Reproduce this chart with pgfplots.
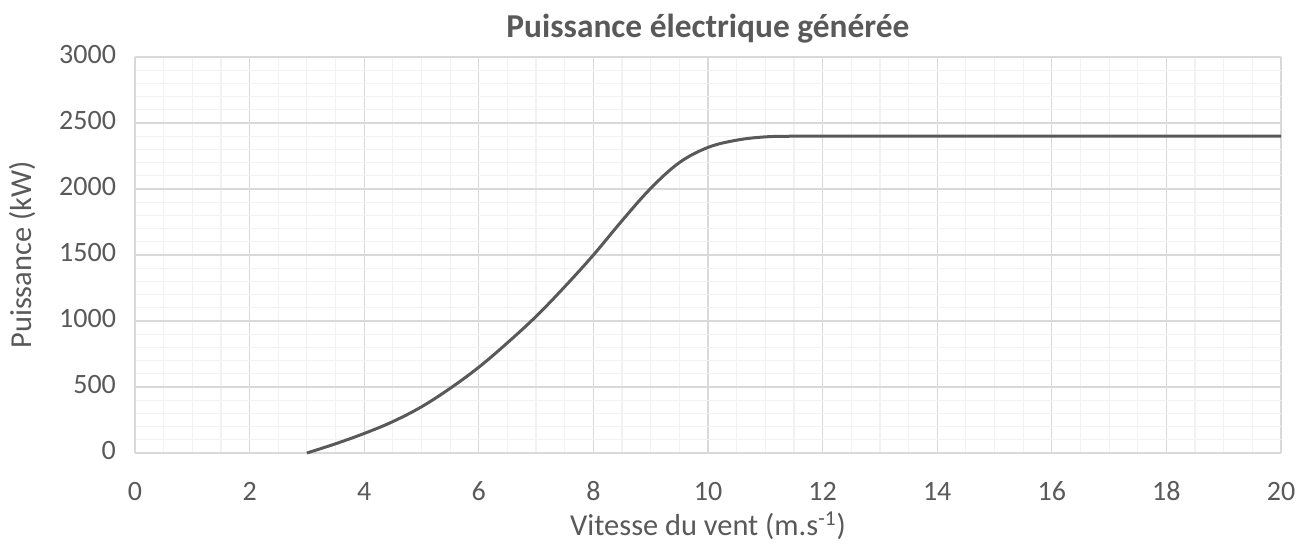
\documentclass[border=0pt]{standalone}
\usepackage{pgfplots}
\pgfplotsset{compat=1.18}
\usepackage{fontspec}
\setmainfont{Carlito}
\definecolor{txt}{HTML}{595959}
\definecolor{majg}{HTML}{D9D9D9}
\definecolor{ming}{HTML}{F2F2F2}
\begin{document}
\begin{tikzpicture}[x=0.5pt,y=0.5pt]
\begin{axis}[
  scale only axis,
  width=573pt, height=198pt,
  xmin=0, xmax=20, ymin=0, ymax=3000,
  xtick={0,2,...,20}, ytick={0,500,...,3000},
  minor xtick={0.5,1,1.5,2.5,3,3.5,4.5,5,5.5,6.5,7,7.5,8.5,9,9.5,10.5,11,11.5,12.5,13,13.5,14.5,15,15.5,16.5,17,17.5,18.5,19,19.5},
  minor ytick={100,200,300,400,600,700,800,900,1100,1200,1300,1400,1600,1700,1800,1900,2100,2200,2300,2400,2600,2700,2800,2900},
  grid=both,
  major grid style={majg, line width=0.6pt},
  minor grid style={ming, line width=0.6pt},
  axis line style={majg, line width=0.6pt},
  axis lines*=left,
  tick style={draw=none},
  typeset ticklabels with strut,
  ticklabel style={font=\fontsize{14}{16}\selectfont, text=txt},
  /pgf/number format/assume math mode=true,
  /pgf/number format/1000 sep={},
  xticklabel style={yshift=-9pt},
  yticklabel style={xshift=-6pt},
  title={\textbf{Puissance électrique générée}},
  title style={font=\fontsize{16.7}{19}\selectfont, text=txt, yshift=-2.5pt},
  xlabel={Vitesse du vent (m.s\textsuperscript{-1})},
  ylabel={Puissance (kW)},
  label style={font=\fontsize{15.2}{17}\selectfont, text=txt},
  xlabel style={yshift=6pt},
  ylabel style={yshift=5pt},
  clip=false,
]
\addplot[color=txt, line width=1.5pt, smooth, tension=0.6] coordinates {
(3,0) (3.5,70) (4,148) (4.5,238) (5,350) (5.5,490) (6,650) (6.5,835) (7,1035) (7.5,1260) (8,1500) (8.5,1760) (9,2005) (9.5,2200) (10,2315) (10.5,2370) (11,2395) (11.5,2400) (12,2400) (13,2400) (14,2400) (15,2400) (16,2400) (17,2400) (18,2400) (19,2400) (20,2400)
};
\end{axis}
\path[use as bounding box] (-135,-95) rectangle (1173,453);
\end{tikzpicture}
\end{document}
